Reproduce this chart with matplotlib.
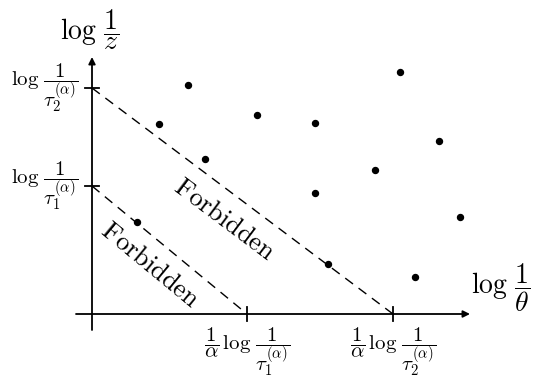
import numpy as np
import matplotlib.pyplot as plt

plt.rcParams['mathtext.fontset'] = 'cm'

# tick positions (arbitrary log units, origin at 0)
xticks = [155, 301]
yticks = [128, 226]
xtick_labels = [r'$\dfrac{1}{\alpha}\,\log\,\dfrac{1}{\tau_1^{(\alpha)}}$',
                r'$\dfrac{1}{\alpha}\,\log\,\dfrac{1}{\tau_2^{(\alpha)}}$']
ytick_labels = [r'$\log\,\dfrac{1}{\tau_1^{(\alpha)}}$',
                r'$\log\,\dfrac{1}{\tau_2^{(\alpha)}}$']

# scattered points
pts_x = [96, 308, 67, 165, 223, 347, 113, 283, 223, 368, 45, 236, 323]
pts_y = [229, 242, 190, 199, 191, 173, 155, 144, 121, 97, 92, 50, 37]

fig = plt.figure(figsize=(5.39, 3.85), dpi=100)
ax = fig.add_axes([0, 0, 1, 1])
ax.set_xlim(-92, 447)
ax.set_ylim(-71, 314)
ax.axis('off')

# axes with arrows
arr = dict(arrowstyle='-|>', color='black', lw=1.3, mutation_scale=10, shrinkA=0, shrinkB=0)
ax.annotate('', xy=(378, 0), xytext=(-16, 0), arrowprops=arr)
ax.annotate('', xy=(0, 257), xytext=(0, -16), arrowprops=arr)

# small ticks
for xt in xticks:
    ax.plot([xt, xt], [-7, 7], color='black', lw=1.3)
for yt in yticks:
    ax.plot([-7, 7], [yt, yt], color='black', lw=1.3)

# dashed boundaries
for xt, yt in zip(xticks, yticks):
    ax.plot([0, xt], [yt, 0], color='black', lw=1.0, dashes=(7, 5))

ax.plot(pts_x, pts_y, 'o', color='black', markersize=4.3)

for xt, lab in zip(xticks, xtick_labels):
    ax.text(xt, -12, lab, ha='center', va='top', fontsize=15)
for yt, lab in zip(yticks, ytick_labels):
    ax.text(-14, yt, lab, ha='right', va='center', fontsize=15)

ax.text(-2, 284, r'$\log\,\dfrac{1}{z}$', ha='center', va='center', fontsize=20)
ax.text(409, 26, r'$\log\,\dfrac{1}{\theta}$', ha='center', va='center', fontsize=20)

ang1 = -np.degrees(np.arctan2(yticks[0], xticks[0]))
ang2 = -np.degrees(np.arctan2(yticks[1], xticks[1]))
ax.text(58, 49, r'$\mathrm{Forbidden}$', rotation=ang1, rotation_mode='anchor',
        ha='center', va='center', fontsize=19)
ax.text(132, 94, r'$\mathrm{Forbidden}$', rotation=ang2, rotation_mode='anchor',
        ha='center', va='center', fontsize=19)

fig.savefig('out.png', dpi=100)
